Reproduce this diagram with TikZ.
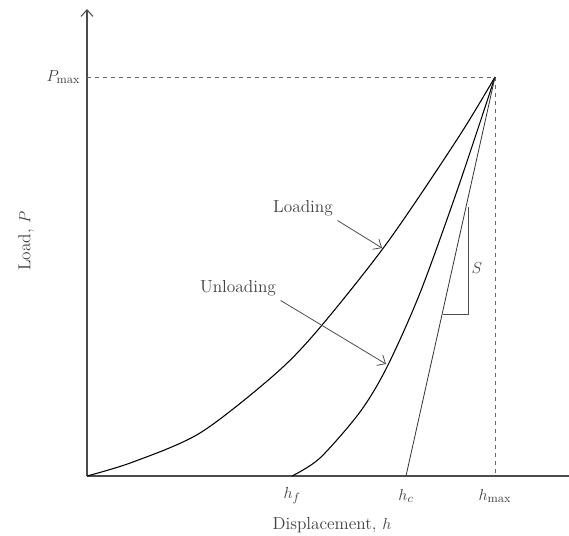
\documentclass[tikz,border=0pt]{standalone}
\usepackage{amsmath}
\usepackage{xcolor}
\usetikzlibrary{arrows.meta}

\begin{document}
\begin{tikzpicture}[x=0.75pt, y=-0.75pt,
  lbl/.style={font=\fontsize{13}{15}\selectfont, text=black!75},
  ax/.style={black!70, line width=0.8pt},
  curve/.style={black, line width=0.8pt},
  guide/.style={black!60, dashed, line width=0.7pt},
  >={Straight Barb[length=5pt, width=9pt]}]

\useasboundingbox (0,0) rectangle (569,536);

% Key points
\coordinate (O) at (87,476);
\coordinate (ytop) at (87,9);
\coordinate (xend) at (569,476);
\coordinate (pk) at (495,77);
\coordinate (pm) at (87,77);
\coordinate (hf) at (292,476);
\coordinate (hc) at (406,476);
\coordinate (hm) at (495,476);

% Axes
\draw[ax, ->] (O) -- (ytop);
\draw[ax] (O) -- (xend);

% Max load / max depth guides
\draw[guide] (pm) -- (pk) -- (hm);

% Loading curve
\draw[curve] plot[smooth, tension=0.5] coordinates {(O) (133,462) (200,433) (273,376) (317,331) (387,243) (458,138) (pk)};
% Unloading curve
\draw[curve] plot[smooth, tension=0.5] coordinates {(hf) (320,458) (360,412) (387,367) (420,293) (458,188) (pk)};
% Initial unloading slope
\draw[black!80, line width=0.6pt] (hc) -- (pk);

% Stiffness triangle
\coordinate (s1) at (443,314);
\coordinate (s2) at (468,314);
\coordinate (s3) at (468,207);
\draw[black!70, line width=0.6pt] (s1) -- (s2) -- (s3);
\node[lbl, right] (S) at (467,268) {$S$};

% Curve labels
\node[lbl] (load) at (303,208) {Loading};
\node[lbl] (unload) at (238,288) {Unloading};
\coordinate (la) at (382,248);
\coordinate (ua) at (386,364);
\draw[black!70, line width=0.6pt, ->] (load.south east) -- (la);
\draw[black!70, line width=0.6pt, ->] (unload.south east) -- (ua);

% Tick labels
\node[lbl, anchor=east] (pmax) at (85,77) {$P_{\max}$};
\node[lbl] (hfl) at (292,496) {$h_f$};
\node[lbl] (hcl) at (406,496) {$h_c$};
\node[lbl] (hml) at (495,496) {$h_{\max}$};

% Axis titles
\node[lbl] (xt) at (332,525) {Displacement, $h$};
\node[lbl, rotate=90] (yt) at (26,241) {Load, $P$};

\end{tikzpicture}
\end{document}
